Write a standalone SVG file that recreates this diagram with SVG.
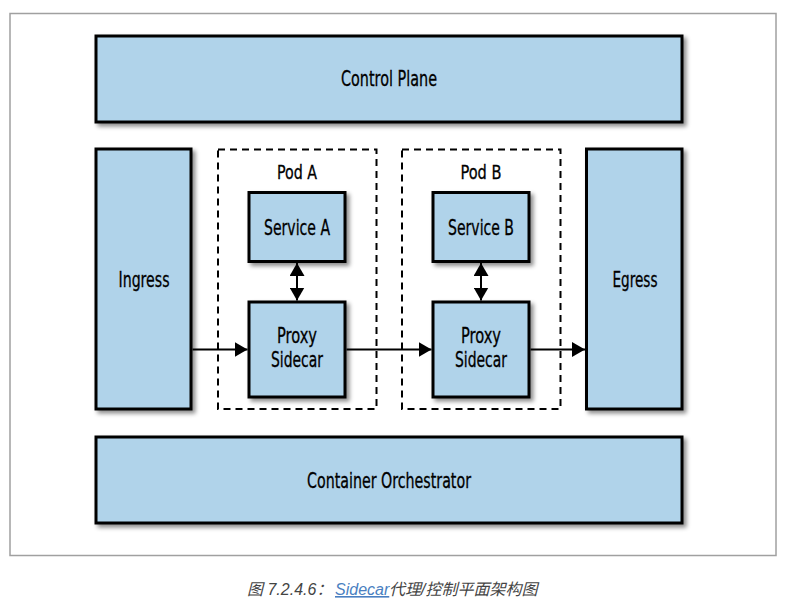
<svg xmlns="http://www.w3.org/2000/svg" width="792" height="607" viewBox="0 0 792 607">
<style>
.box{fill:#b0d3ea;stroke:#000;stroke-width:3;filter:url(#sh)}
.pod{fill:none;stroke:#000;stroke-width:2;stroke-dasharray:7 5}
.lbl{font-family:"Liberation Sans Narrow","DejaVu Sans Condensed","Liberation Sans",sans-serif;font-size:22px;fill:#000;stroke:#000;stroke-width:0.3;text-anchor:middle}
.pl{font-size:20px}
.cn line{stroke:#000;stroke-width:2}
.cap{font-family:"Liberation Sans","Noto Sans CJK SC",sans-serif;font-style:italic;font-size:16px;fill:#444}
</style>
<defs>
<filter id="sh" x="-10%" y="-10%" width="130%" height="130%">
<feDropShadow dx="3" dy="3" stdDeviation="2" flood-color="#000" flood-opacity="0.45"/>
</filter>
<marker id="ah" viewBox="0 0 13 15" refX="13" refY="7.5" markerWidth="13" markerHeight="15" markerUnits="userSpaceOnUse" orient="auto-start-reverse">
<path d="M0,0 L13,7.5 L0,15 z" fill="#000"/>
</marker>
</defs>
<rect x="0" y="0" width="792" height="607" fill="#fff"/>
<rect x="10" y="13.5" width="766" height="542" fill="#fff" stroke="#a0a0a0" stroke-width="1.5"/>

<g id="control-plane"><rect class="box" x="96" y="36" width="586" height="86"/><text class="lbl" x="389" y="86" textLength="96" lengthAdjust="spacingAndGlyphs">Control Plane</text></g>
<g id="ingress"><rect class="box" x="96" y="149" width="95" height="260"/><text class="lbl" x="144" y="287" textLength="51" lengthAdjust="spacingAndGlyphs">Ingress</text></g>
<g id="egress"><rect class="box" x="586.5" y="149" width="95.5" height="260"/><text class="lbl" x="635" y="287" textLength="45" lengthAdjust="spacingAndGlyphs">Egress</text></g>
<g id="orchestrator"><rect class="box" x="96" y="437" width="586" height="86"/><text class="lbl" x="389" y="488" textLength="164" lengthAdjust="spacingAndGlyphs">Container Orchestrator</text></g>

<g id="pod-a"><rect class="pod" x="218" y="149.5" width="158.5" height="259.5"/><text class="lbl pl" x="297" y="179" textLength="40" lengthAdjust="spacingAndGlyphs">Pod A</text></g>
<g id="service-a"><rect class="box" x="249" y="192.5" width="96" height="69"/><text class="lbl" x="297" y="235" textLength="66" lengthAdjust="spacingAndGlyphs">Service A</text></g>
<g id="proxy-a"><rect class="box" x="249" y="302" width="96" height="95"/><text class="lbl" x="297" y="343" textLength="40" lengthAdjust="spacingAndGlyphs">Proxy</text><text class="lbl" x="297" y="366.5" textLength="52" lengthAdjust="spacingAndGlyphs">Sidecar</text></g>

<g id="pod-b"><rect class="pod" x="402" y="149.5" width="158.5" height="259.5"/><text class="lbl pl" x="481" y="179" textLength="41" lengthAdjust="spacingAndGlyphs">Pod B</text></g>
<g id="service-b"><rect class="box" x="433" y="192.5" width="96" height="69"/><text class="lbl" x="481" y="235" textLength="66" lengthAdjust="spacingAndGlyphs">Service B</text></g>
<g id="proxy-b"><rect class="box" x="433" y="302" width="96" height="95"/><text class="lbl" x="481" y="343" textLength="40" lengthAdjust="spacingAndGlyphs">Proxy</text><text class="lbl" x="481" y="366.5" textLength="52" lengthAdjust="spacingAndGlyphs">Sidecar</text></g>

<g id="connectors" class="cn">
<line x1="192.5" y1="349.5" x2="247.5" y2="349.5" marker-end="url(#ah)"/>
<line x1="346.5" y1="349.5" x2="431.5" y2="349.5" marker-end="url(#ah)"/>
<line x1="530.5" y1="349.5" x2="585" y2="349.5" marker-end="url(#ah)"/>
<line x1="297" y1="263" x2="297" y2="300.5" marker-start="url(#ah)" marker-end="url(#ah)"/>
<line x1="481" y1="263" x2="481" y2="300.5" marker-start="url(#ah)" marker-end="url(#ah)"/>
</g>

<text class="cap" y="595"><tspan x="247">图 7.2.4.6：</tspan><tspan x="335" fill="#4a7fc1" text-decoration="underline">Sidecar</tspan><tspan x="389">代理/控制平面架构图</tspan></text>
</svg>
